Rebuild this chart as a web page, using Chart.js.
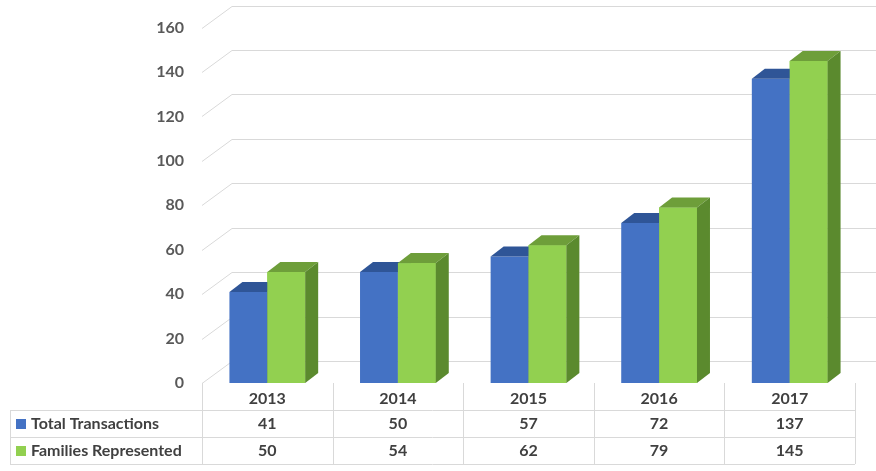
<!DOCTYPE html>
<html>
<head>
<meta charset="utf-8">
<script src="https://cdn.jsdelivr.net/npm/chart.js@4"></script>
<style>
  body { margin: 0; background: #fff; }
</style>
</head>
<body>
<canvas id="chart" width="876" height="471"></canvas>
<script>
const years = ['2013', '2014', '2015', '2016', '2017'];
const totalTransactions = [41, 50, 57, 72, 137];
const familiesRepresented = [50, 54, 62, 79, 145];
const seriesNames = ['Total Transactions', 'Families Represented'];

const FONT = 'Lato, "Liberation Sans", sans-serif';
const front = ['#4472C4', '#92D050'];
const topCol = ['#2F5597', '#6E9E3A'];
const sideCol = ['#2B4C86', '#5B8A2E'];
const DX = 13, DY = -10;        // bar depth
const WX = 30, WY = -22;        // back wall offset

const grid3d = {
  id: 'grid3d',
  beforeDatasetsDraw(chart) {
    const { ctx, chartArea: a, scales: { y } } = chart;
    ctx.save();
    ctx.strokeStyle = '#d9d9d9';
    ctx.lineWidth = 1;
    y.ticks.forEach(t => {
      const py = Math.round(y.getPixelForValue(t.value)) + 0.5;
      ctx.beginPath();
      ctx.moveTo(a.left, py);
      ctx.lineTo(a.left + WX, py + WY);
      ctx.lineTo(876, py + WY);
      ctx.stroke();
    });
    ctx.restore();
  }
};

const bars3d = {
  id: 'bars3d',
  afterDatasetsDraw(chart) {
    const { ctx } = chart;
    const m0 = chart.getDatasetMeta(0).data;
    const m1 = chart.getDatasetMeta(1).data;
    const face = (b, d, redraw) => {
      const l = b.x - b.width / 2, r = b.x + b.width / 2;
      if (redraw) { ctx.fillStyle = front[d]; ctx.fillRect(l, b.y, b.width, b.base - b.y); }
      ctx.fillStyle = topCol[d];
      ctx.beginPath();
      ctx.moveTo(l, b.y); ctx.lineTo(l + DX, b.y + DY); ctx.lineTo(r + DX, b.y + DY); ctx.lineTo(r, b.y);
      ctx.closePath(); ctx.fill();
      ctx.fillStyle = sideCol[d];
      ctx.beginPath();
      ctx.moveTo(r, b.y); ctx.lineTo(r + DX, b.y + DY); ctx.lineTo(r + DX, b.base + DY); ctx.lineTo(r, b.base);
      ctx.closePath(); ctx.fill();
    };
    ctx.save();
    m0.forEach((b, i) => { face(b, 0, false); face(m1[i], 1, true); });
    ctx.restore();
  }
};

const dataTable = {
  id: 'dataTable',
  afterDraw(chart) {
    const { ctx, chartArea: a } = chart;
    const n = years.length;
    const cw = (a.right - a.left) / n;
    const rows = [a.bottom, a.bottom + 27, a.bottom + 54, a.bottom + 81];
    ctx.save();
    ctx.strokeStyle = '#d9d9d9';
    ctx.lineWidth = 1;
    ctx.beginPath();
    for (let i = 0; i <= n; i++) {
      const x = Math.round(a.left + i * cw) + 0.5;
      ctx.moveTo(x, rows[0]); ctx.lineTo(x, rows[3]);
    }
    for (let r = 1; r <= 3; r++) {
      ctx.moveTo(10, rows[r] + 0.5); ctx.lineTo(a.right, rows[r] + 0.5);
    }
    ctx.moveTo(10.5, rows[1]); ctx.lineTo(10.5, rows[3]);
    ctx.stroke();

    ctx.font = 'bold 16px ' + FONT;
    ctx.fillStyle = '#404040';
    ctx.textAlign = 'center';
    ctx.textBaseline = 'middle';
    years.forEach((yr, i) => ctx.fillText(yr, a.left + (i + 0.5) * cw, rows[0] + 16));
    [totalTransactions, familiesRepresented].forEach((vals, r) => {
      const cy = rows[r + 1] + 14;
      vals.forEach((v, i) => ctx.fillText(String(v), a.left + (i + 0.5) * cw, cy));
      ctx.fillStyle = front[r];
      ctx.fillRect(16, cy - 5, 10, 10);
      ctx.fillStyle = '#404040';
      ctx.textAlign = 'left';
      ctx.fillText(seriesNames[r], 31, cy);
      ctx.textAlign = 'center';
    });
    ctx.restore();
  }
};

new Chart(document.getElementById('chart'), {
  type: 'bar',
  data: {
    labels: years,
    datasets: [
      { label: seriesNames[0], data: totalTransactions, backgroundColor: front[0] },
      { label: seriesNames[1], data: familiesRepresented, backgroundColor: front[1] }
    ]
  },
  options: {
    responsive: false,
    animation: false,
    devicePixelRatio: 1,
    layout: { padding: { top: 19, bottom: 88, right: 21 } },
    plugins: { legend: { display: false }, tooltip: { enabled: false } },
    datasets: { bar: { categoryPercentage: 0.58, barPercentage: 1 } },
    scales: {
      x: { display: false },
      y: {
        min: 0, max: 160,
        border: { display: false },
        grid: { display: false, drawTicks: false },
        ticks: { stepSize: 20, padding: 18, color: '#595959', font: { family: FONT, size: 16, weight: 'bold' } },
        afterFit(s) { s.width = 202; }
      }
    }
  },
  plugins: [grid3d, bars3d, dataTable]
});
</script>
</body>
</html>
